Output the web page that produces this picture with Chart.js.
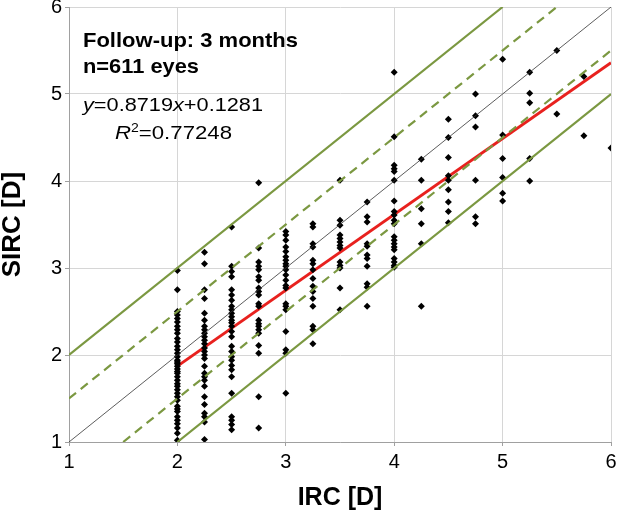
<!DOCTYPE html>
<html>
<head>
<meta charset="utf-8">
<script src="https://cdn.jsdelivr.net/npm/chart.js@4.4.1/dist/chart.umd.min.js"></script>
<style>
  html, body { margin: 0; padding: 0; background: #fff; }
  #wrap { width: 617px; height: 516px; }
</style>
</head>
<body>
<div id="wrap"><canvas id="scatterChart" width="617" height="516"></canvas></div>
<script>
// IRC steps (D) and the SIRC values
var ircLevels = [2, 2.25, 2.5, 2.75, 3, 3.25, 3.5, 3.75, 4, 4.25, 4.5, 4.75, 5, 5.25, 5.5, 5.75, 6];
var sirc_2_00 = [2.97, 2.75, 2.50, 2.46, 2.42, 2.38, 2.33, 2.29, 2.25, 2.19, 2.15, 2.10, 2.06, 2.02, 1.98, 1.94, 1.92,
                 1.90, 1.87, 1.84, 1.81, 1.79, 1.75, 1.71, 1.67, 1.64, 1.60, 1.56, 1.52, 1.48, 1.41, 1.38, 1.35, 1.29,
                 1.25, 1.21, 1.16, 1.10, 1.02];
var sirc_2_25 = [3.18, 3.05, 2.75, 2.65, 2.48, 2.40, 2.33, 2.29, 2.25, 2.21, 2.17, 2.13, 2.08, 2.04, 2.00, 1.96, 1.87,
                 1.79, 1.75, 1.71, 1.64, 1.52, 1.43, 1.33, 1.29, 1.23, 1.03];
var sirc_2_50 = [3.47, 3.02, 2.96, 2.90, 2.75, 2.69, 2.63, 2.56, 2.52, 2.48, 2.44, 2.40, 2.37, 2.33, 2.27, 2.21, 2.10,
                 2.04, 1.98, 1.94, 1.88, 1.83, 1.75, 1.56, 1.29, 1.25, 1.20, 1.14];
var sirc_2_75 = [3.98, 3.23, 3.07, 3.02, 2.98, 2.90, 2.86, 2.77, 2.73, 2.69, 2.59, 2.56, 2.40, 2.36, 2.33, 2.29, 2.25,
                 2.11, 2.02, 1.52, 1.16];
var sirc_3_00 = [3.42, 3.38, 3.32, 3.24, 3.19, 3.13, 3.09, 3.05, 3.02, 2.98, 2.92, 2.86, 2.80, 2.77, 2.59, 2.56, 2.52,
                 2.27, 2.06, 2.02, 1.56];
var sirc_3_25 = [3.51, 3.47, 3.28, 3.24, 3.09, 3.05, 2.98, 2.88, 2.79, 2.73, 2.65, 2.56, 2.33, 2.29, 2.13];
var sirc_3_50 = [4.01, 3.55, 3.49, 3.38, 3.34, 3.30, 3.26, 3.23, 3.07, 3.03, 3.00, 2.77, 2.52];
var sirc_3_75 = [3.76, 3.59, 3.53, 3.28, 3.25, 3.15, 3.11, 3.02, 2.82, 2.78, 2.56];
var sirc_4_00 = [5.25, 4.51, 4.18, 4.14, 4.11, 4.01, 3.77, 3.65, 3.61, 3.55, 3.51, 3.36, 3.32, 3.28, 3.24, 3.21, 3.11,
                 3.07, 3.03, 3.01];
var sirc_4_25 = [4.25, 4.01, 3.68, 3.51, 3.28, 2.56];
var sirc_4_50 = [4.71, 4.50, 4.27, 4.06, 4.01, 3.90, 3.76, 3.65, 3.52];
var sirc_4_75 = [5.00, 4.75, 4.62, 4.01, 3.59, 3.51];
var sirc_5_00 = [5.40, 4.53, 4.26, 4.04, 3.86, 3.77];
var sirc_5_25 = [5.25, 5.01, 4.90, 4.26, 4.00];
var sirc_5_50 = [5.50, 4.77];
var sirc_5_75 = [5.20, 4.52];
var sirc_6_00 = [4.38];
var sircColumns = [sirc_2_00, sirc_2_25, sirc_2_50, sirc_2_75, sirc_3_00, sirc_3_25, sirc_3_50, sirc_3_75, sirc_4_00,
                   sirc_4_25, sirc_4_50, sirc_4_75, sirc_5_00, sirc_5_25, sirc_5_50, sirc_5_75, sirc_6_00];

// tick labels on both axes
var axisTicks = [1, 2, 3, 4, 5, 6];

// reference lines (identity, +/-0.5 D, +/-1 D) as end points
var identityX = [1, 6],   identityY = [1, 6];
var plus1X = [1, 5],      plus1Y = [2, 6];
var minus1X = [2, 6],     minus1Y = [1, 5];
var plusHalfX = [1, 5.5], plusHalfY = [1.5, 6];
var minusHalfX = [1.5, 6], minusHalfY = [1, 5.5];

// linear fit shown in the box
var fitSlope = 0.8719, fitIntercept = 0.1281;
var fitX = [2, 6];

var points = [];
ircLevels.forEach(function (x, i) {
  sircColumns[i].forEach(function (y) { points.push({ x: x, y: y }); });
});

function pairs(xs, ys) {
  return xs.map(function (x, i) { return { x: x, y: ys[i] }; });
}

var green = "#7b9841";
var FONT = "'Liberation Sans', Arial, sans-serif";

function lineSet(data, color, width, dash) {
  return {
    type: "line",
    data: data,
    borderColor: color,
    borderWidth: width,
    borderDash: dash || [],
    pointRadius: 0,
    fill: false,
    tension: 0
  };
}

// the text box in the upper left, drawn a little wide like the original
var textBox = {
  id: "textBox",
  afterDraw: function (chart) {
    var ctx = chart.ctx;
    function row(x, y, width, parts) {
      ctx.save();
      var total = 0;
      parts.forEach(function (p) { ctx.font = p.font; total += ctx.measureText(p.text).width; });
      ctx.translate(x, y);
      ctx.scale(width / total, 1);
      var cx = 0;
      parts.forEach(function (p) {
        ctx.font = p.font;
        ctx.fillStyle = "#000";
        ctx.textBaseline = "alphabetic";
        ctx.fillText(p.text, cx, p.dy || 0);
        cx += ctx.measureText(p.text).width;
      });
      ctx.restore();
    }
    var b = "bold 21px " + FONT, n = "19px " + FONT, it = "italic 19px " + FONT, sup = "12px " + FONT;
    row(83, 47, 215, [{ text: "Follow-up: 3 months", font: b }]);
    row(83, 73, 116, [{ text: "n=611 eyes", font: b }]);
    row(83, 111, 180, [
      { text: "y", font: it }, { text: "=0.8719", font: n }, { text: "x", font: it }, { text: "+0.1281", font: n }
    ]);
    row(115, 139, 117, [
      { text: "R", font: it }, { text: "2", font: sup, dy: -7 }, { text: "=0.77248", font: n }
    ]);
  }
};

var ctx = document.getElementById("scatterChart").getContext("2d");
var myChart = new Chart(ctx, {
  type: "scatter",
  data: {
    datasets: [
      lineSet(pairs(plus1X, plus1Y), green, 2.2),
      lineSet(pairs(minus1X, minus1Y), green, 2.2),
      lineSet(pairs(plusHalfX, plusHalfY), green, 2.2, [9, 6]),
      lineSet(pairs(minusHalfX, minusHalfY), green, 2.2, [9, 6]),
      lineSet(pairs(identityX, identityY), "#333", 0.8),
      {
        type: "scatter",
        data: points,
        pointStyle: "rectRot",
        pointRadius: 3.5,
        pointBackgroundColor: "#000",
        pointBorderColor: "#000",
        pointBorderWidth: 0
      },
      lineSet(fitX.map(function (x) { return { x: x, y: fitSlope * x + fitIntercept }; }), "#e8211e", 3)
    ]
  },
  options: {
    responsive: false,
    animation: false,
    layout: { padding: { left: 0, top: 7, right: 6, bottom: 0 } },
    plugins: { legend: { display: false }, tooltip: { enabled: false } },
    scales: {
      x: {
        type: "linear",
        min: 1,
        max: 6,
        afterBuildTicks: function (s) { s.ticks = axisTicks.map(function (v) { return { value: v }; }); },
        afterFit: function (s) { s.height = 74; s.paddingLeft = 0; s.paddingRight = 0; },
        ticks: { color: "#000", font: { family: FONT, size: 20 }, padding: 4, maxRotation: 0 },
        grid: { color: "#d6d6d6", lineWidth: 1, tickLength: 4, tickColor: "#a0a0a0" },
        border: { color: "#a0a0a0", width: 1 },
        title: {
          display: true,
          text: "IRC [D]",
          color: "#000",
          font: { family: FONT, size: 25, weight: "bold", lineHeight: 1 },
          padding: { top: 0, bottom: 5 }
        }
      },
      y: {
        type: "linear",
        min: 1,
        max: 6,
        afterBuildTicks: function (s) { s.ticks = axisTicks.map(function (v) { return { value: v }; }); },
        afterFit: function (s) { s.width = 69; s.paddingTop = 0; s.paddingBottom = 0; },
        ticks: { color: "#000", font: { family: FONT, size: 20 }, padding: 3 },
        grid: { color: "#d6d6d6", lineWidth: 1, tickLength: 4, tickColor: "#a0a0a0" },
        border: { color: "#a0a0a0", width: 1 },
        title: {
          display: true,
          text: "SIRC [D]",
          color: "#000",
          font: { family: FONT, size: 26, weight: "bold", lineHeight: 1 },
          padding: { top: 0, bottom: 0 }
        }
      }
    }
  },
  plugins: [textBox]
});
</script>
</body>
</html>
